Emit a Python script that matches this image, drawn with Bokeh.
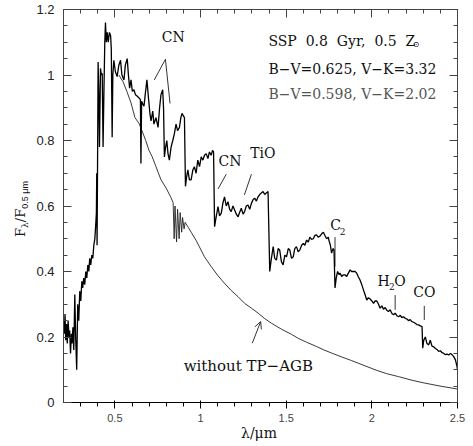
from bokeh.plotting import figure
from bokeh.models import (Label, Arrow, OpenHead, FixedTicker, LinearAxis,
                          CustomJSTickFormatter, Range1d, Div)
from bokeh.layouts import row, column
from bokeh.embed import file_html
from bokeh.resources import INLINE

# ---- spectrum with TP-AGB (thick line) ----
wl_tp = [0.200, 0.204, 0.209, 0.213, 0.218, 0.222, 0.227, 0.232, 0.236, 0.241, 0.246, 0.250,
         0.255, 0.260, 0.266, 0.271, 0.277, 0.283, 0.289, 0.295, 0.301, 0.307, 0.312, 0.318,
         0.324, 0.330, 0.336, 0.342, 0.348, 0.353, 0.359, 0.365, 0.371, 0.377, 0.383, 0.389,
         0.392, 0.394, 0.396, 0.399, 0.402, 0.406, 0.410, 0.416, 0.421, 0.426, 0.431, 0.436,
         0.441, 0.445, 0.450, 0.455, 0.461, 0.468, 0.475, 0.479, 0.484, 0.488, 0.494, 0.503,
         0.513, 0.523, 0.533, 0.541, 0.553, 0.561, 0.572, 0.579, 0.586, 0.594, 0.602, 0.611,
         0.620, 0.631, 0.641, 0.649, 0.652, 0.656, 0.664, 0.670, 0.677, 0.687, 0.696, 0.705,
         0.711, 0.721, 0.728, 0.740, 0.752, 0.761, 0.769, 0.779, 0.784, 0.789, 0.796, 0.803,
         0.810, 0.818, 0.828, 0.838, 0.847, 0.857, 0.866, 0.877, 0.885, 0.892, 0.900, 0.906,
         0.912, 0.919, 0.926, 0.935, 0.945, 0.955, 0.964, 0.974, 0.984, 0.994, 1.004, 1.014,
         1.023, 1.033, 1.043, 1.052, 1.062, 1.070, 1.076, 1.082,
         1.089, 1.102, 1.111, 1.121, 1.131, 1.140, 1.150, 1.160, 1.170, 1.179, 1.189, 1.199,
         1.209, 1.219, 1.228, 1.238, 1.248, 1.257, 1.267, 1.277, 1.287, 1.297, 1.307, 1.316,
         1.326, 1.336, 1.345, 1.355, 1.365, 1.375, 1.384, 1.394, 1.404,
         1.411, 1.424, 1.433, 1.443, 1.453, 1.462, 1.472, 1.482, 1.492, 1.502, 1.512, 1.521,
         1.531, 1.541, 1.550, 1.560, 1.570, 1.580, 1.590, 1.600, 1.609, 1.619, 1.629, 1.638,
         1.648, 1.658, 1.667, 1.677, 1.687, 1.697, 1.707, 1.717, 1.726, 1.736, 1.746, 1.749,
         1.758, 1.765, 1.774, 1.779, 1.785, 1.792, 1.800, 1.809, 1.814, 1.824, 1.834, 1.843,
         1.853, 1.863, 1.873, 1.882, 1.892, 1.902, 1.912, 1.921, 1.931, 1.941, 1.951, 1.960,
         1.970, 1.980, 1.990, 2.000, 2.010, 2.019, 2.029, 2.039, 2.048, 2.058, 2.068, 2.078,
         2.087, 2.097, 2.107, 2.117, 2.127, 2.136, 2.146, 2.156, 2.166, 2.175, 2.185, 2.195,
         2.205, 2.214, 2.224, 2.234, 2.244, 2.253, 2.263, 2.273, 2.283, 2.293, 2.297, 2.303,
         2.312, 2.322, 2.332, 2.341, 2.351, 2.361, 2.371, 2.380, 2.390, 2.400, 2.410, 2.420,
         2.429, 2.439, 2.449, 2.459, 2.468, 2.478, 2.488, 2.497, 2.500]
flux_tp = [0.25, 0.21, 0.27, 0.19, 0.24, 0.18, 0.25, 0.20, 0.22, 0.15, 0.21, 0.18,
           0.23, 0.16, 0.33, 0.20, 0.10, 0.30, 0.25, 0.34, 0.31, 0.37, 0.35, 0.38,
           0.36, 0.40, 0.38, 0.42, 0.40, 0.44, 0.42, 0.45, 0.44, 0.48, 0.50, 0.55,
           0.58, 0.70, 0.48, 0.75, 1.04, 0.95, 0.78, 1.02, 1.00, 1.005, 0.78, 0.95,
           1.10, 1.16, 1.10, 1.13, 1.10, 1.13, 1.12, 1.08, 0.81, 1.00, 1.045, 1.01,
           0.995, 1.03, 1.045, 1.00, 0.985, 1.03, 1.05, 1.00, 0.96, 0.985, 0.95, 0.955,
           0.94, 0.935, 0.93, 0.925, 0.73, 0.92, 0.91, 0.905, 0.94, 0.985, 0.93, 0.88,
           0.86, 0.89, 0.85, 0.87, 0.84, 0.90, 0.94, 0.955, 0.90, 0.75, 0.78, 0.80,
           0.76, 0.74, 0.78, 0.80, 0.82, 0.85, 0.83, 0.84, 0.87, 0.883, 0.875, 0.87,
           0.66, 0.69, 0.71, 0.68, 0.68, 0.71, 0.72, 0.70, 0.74, 0.72, 0.75, 0.74,
           0.755, 0.76, 0.745, 0.765, 0.755, 0.77, 0.765, 0.537,
           0.56, 0.598, 0.57, 0.578, 0.61, 0.628, 0.60, 0.613, 0.59, 0.583, 0.60, 0.588,
           0.575, 0.567, 0.58, 0.593, 0.575, 0.583, 0.60, 0.603, 0.59, 0.608, 0.62, 0.624,
           0.615, 0.628, 0.635, 0.64, 0.644, 0.635, 0.64, 0.644, 0.40,
           0.43, 0.476, 0.44, 0.435, 0.47, 0.466, 0.43, 0.42, 0.45, 0.445, 0.47, 0.466,
           0.44, 0.445, 0.47, 0.476, 0.46, 0.466, 0.48, 0.486, 0.48, 0.496, 0.49, 0.505,
           0.498, 0.50, 0.51, 0.512, 0.505, 0.508, 0.515, 0.52, 0.51, 0.50, 0.505, 0.496,
           0.48, 0.456, 0.47, 0.466, 0.35, 0.38, 0.40, 0.39, 0.395, 0.385, 0.39, 0.39,
           0.385, 0.395, 0.405, 0.40, 0.40, 0.40, 0.395, 0.384, 0.374, 0.36, 0.344, 0.33,
           0.313, 0.32, 0.316, 0.31, 0.303, 0.31, 0.31, 0.30, 0.288, 0.295, 0.285, 0.29,
           0.282, 0.278, 0.283, 0.272, 0.268, 0.273, 0.265, 0.262, 0.266, 0.259, 0.262, 0.257,
           0.255, 0.25, 0.253, 0.247, 0.245, 0.242, 0.238, 0.237, 0.234, 0.232, 0.166, 0.19,
           0.20, 0.18, 0.176, 0.19, 0.172, 0.17, 0.165, 0.162, 0.156, 0.158, 0.152, 0.150,
           0.146, 0.148, 0.145, 0.15, 0.146, 0.14, 0.13, 0.11, 0.10]

# ---- spectrum without TP-AGB (thin line) ----
wl_no = [0.523, 0.547, 0.570, 0.594, 0.617, 0.641, 0.658, 0.680, 0.699, 0.718, 0.740, 0.769,
         0.799, 0.828, 0.840, 0.846, 0.851, 0.860, 0.866, 0.875, 0.881, 0.890, 0.895, 0.904,
         0.910, 0.916, 0.928, 0.945, 0.974, 1.023, 1.062, 1.102, 1.138, 1.179, 1.219, 1.257,
         1.297, 1.336, 1.375, 1.414, 1.472, 1.531, 1.570, 1.619, 1.677, 1.718, 1.765, 1.824,
         1.882, 1.960, 2.029, 2.087, 2.156, 2.234, 2.293, 2.351, 2.410, 2.468, 2.500]
flux_no = [1.00, 0.98, 0.95, 0.915, 0.87, 0.852, 0.83, 0.80, 0.77, 0.75, 0.72, 0.68,
           0.655, 0.625, 0.61, 0.50, 0.60, 0.49, 0.59, 0.50, 0.58, 0.52, 0.565, 0.53,
           0.55, 0.545, 0.535, 0.52, 0.495, 0.445, 0.415, 0.387, 0.365, 0.342, 0.323, 0.303,
           0.288, 0.273, 0.256, 0.242, 0.224, 0.208, 0.196, 0.184, 0.171, 0.161, 0.151, 0.139,
           0.128, 0.112, 0.098, 0.088, 0.079, 0.068, 0.061, 0.055, 0.049, 0.044, 0.041]

# ---- ticks ----
x_major = [0.5, 1.0, 1.5, 2.0, 2.5]
x_minor = [0.2, 0.3, 0.4, 0.5, 0.6, 0.7, 0.8, 0.9, 1.0, 1.1, 1.2, 1.3, 1.4, 1.5,
           1.6, 1.7, 1.8, 1.9, 2.0, 2.1, 2.2, 2.3, 2.4, 2.5]
y_major = [0.0, 0.2, 0.4, 0.6, 0.8, 1.0, 1.2]
y_minor = [0.05, 0.1, 0.15, 0.25, 0.3, 0.35, 0.45, 0.5, 0.55, 0.65, 0.7, 0.75,
           0.85, 0.9, 0.95, 1.05, 1.1, 1.15]

# ---- band annotations ----
band_text = ["CN", "CN", "TiO", "CO"]
band_tx = [0.841, 1.172, 1.364, 2.306]
band_ty = [1.115, 0.737, 0.762, 0.336]
seg_x0 = [0.795, 0.795, 1.150, 1.297, 1.785, 2.136, 2.306]
seg_y0 = [1.048, 1.048, 0.697, 0.697, 0.505, 0.328, 0.295]
seg_x1 = [0.730, 0.822, 1.102, 1.256, 1.785, 2.136, 2.306]
seg_y1 = [0.985, 0.913, 0.652, 0.634, 0.415, 0.283, 0.252]

SERIF = "DejaVu Serif"
SANS = "Liberation Sans"
AX = "#444444"
TXT = "#111111"

p = figure(width=435, height=424, x_range=Range1d(0.2, 2.5), y_range=Range1d(0, 1.2),
           output_backend="svg", toolbar_location=None,
           min_border_left=33, min_border_right=8, min_border_top=9, min_border_bottom=21)
p.xgrid.visible = False
p.ygrid.visible = False
p.outline_line_color = AX
p.background_fill_color = "white"
p.border_fill_color = "white"

fmt = CustomJSTickFormatter(code="return tick.toString();")
blank = CustomJSTickFormatter(code="return '';")
xt = FixedTicker(ticks=x_major, minor_ticks=x_minor)
yt = FixedTicker(ticks=y_major, minor_ticks=y_minor)

top = LinearAxis(ticker=xt, formatter=blank)
right = LinearAxis(ticker=yt, formatter=blank)
p.add_layout(top, "above")
p.add_layout(right, "right")
p.xaxis[0].ticker = xt
p.yaxis[0].ticker = yt

for ax in [p.xaxis[0], p.yaxis[0], top, right]:
    ax.major_tick_in = 8
    ax.major_tick_out = 0
    ax.minor_tick_in = 4
    ax.minor_tick_out = 0
    ax.axis_line_color = AX
    ax.major_tick_line_color = AX
    ax.minor_tick_line_color = AX
    ax.major_label_text_font = SANS
    ax.major_label_text_color = "#222222"

for ax in [p.xaxis[0], p.yaxis[0]]:
    ax.formatter = fmt
    ax.major_label_text_font_size = "13px"
p.xaxis[0].major_label_standoff = 5
p.yaxis[0].major_label_standoff = 9
for ax in [top, right]:
    ax.major_label_text_font_size = "1px"
    ax.major_label_standoff = 0

p.line(wl_no, flux_no, line_color="#222222", line_width=0.9)
p.line(wl_tp, flux_tp, line_color="black", line_width=1.3)
p.segment(seg_x0, seg_y0, seg_x1, seg_y1, line_color="black", line_width=0.8)

def lab(x, y, t, size="14px", font=SERIF, align="center", color=TXT, **kw):
    p.add_layout(Label(x=x, y=y, text=t, text_font=font, text_font_size=size,
                       text_align=align, text_baseline="middle", text_color=color, **kw))

for t, x, y in zip(band_text, band_tx, band_ty):
    lab(x, y, t)

# C2 and H2O with subscripts
lab(1.789, 0.542, "C")
lab(1.830, 0.523, "2", size="9px")
lab(2.068, 0.371, "H")
lab(2.117, 0.354, "2", size="9px")
lab(2.165, 0.371, "O")

# without TP-AGB
lab(1.279, 0.112, "without TP\u2212AGB", size="15px")
p.add_layout(Arrow(x_start=1.302, y_start=0.181, x_end=1.351, y_end=0.247,
                   line_width=0.8, line_color="black",
                   end=OpenHead(size=7, line_width=0.8, line_color="black")))

# info text
NB = "\u00a0 "
lab(1.396, 1.104, "SSP" + NB + "0.8" + NB + "Gyr," + NB + "0.5" + NB + "Z", align="left")
lab(2.259, 1.094, "\u2299", size="8px")
lab(1.396, 1.018, "B\u2212V=0.625, V\u2212K=3.32", align="left")
lab(1.396, 0.942, "B\u2212V=0.598, V\u2212K=2.02", align="left", color="#555555")

# axis titles with subscripts (HTML text beside / below the figure)
ylabel_html = (
    '<div style="position:relative;width:30px;height:424px;">'
    '<div style="position:absolute;left:22px;top:209px;'
    'transform:translate(-50%,-50%) rotate(-90deg);white-space:nowrap;'
    "font-family:'DejaVu Serif';font-size:13px;color:#111;line-height:1;\">"
    'F<sub style="font-size:9px;">\u03bb</sub>/F'
    "<sub style=\"font-size:9px;font-family:'Liberation Sans';\">0.5 \u03bcm</sub>"
    '</div></div>')
xlabel_html = (
    '<div style="position:relative;width:465px;height:14px;">'
    '<div style="position:absolute;left:259px;top:9px;transform:translate(-50%,-50%);'
    "white-space:nowrap;font-family:'DejaVu Serif';font-size:14px;color:#111;"
    'line-height:1;">\u03bb/\u03bcm</div></div>')

ydiv = Div(text=ylabel_html, width=30, height=424, margin=0)
xdiv = Div(text=xlabel_html, width=465, height=14, margin=0)
layout = column(row(ydiv, p, spacing=0), xdiv, spacing=0)

open("out.html", "w").write(file_html(layout, INLINE))
